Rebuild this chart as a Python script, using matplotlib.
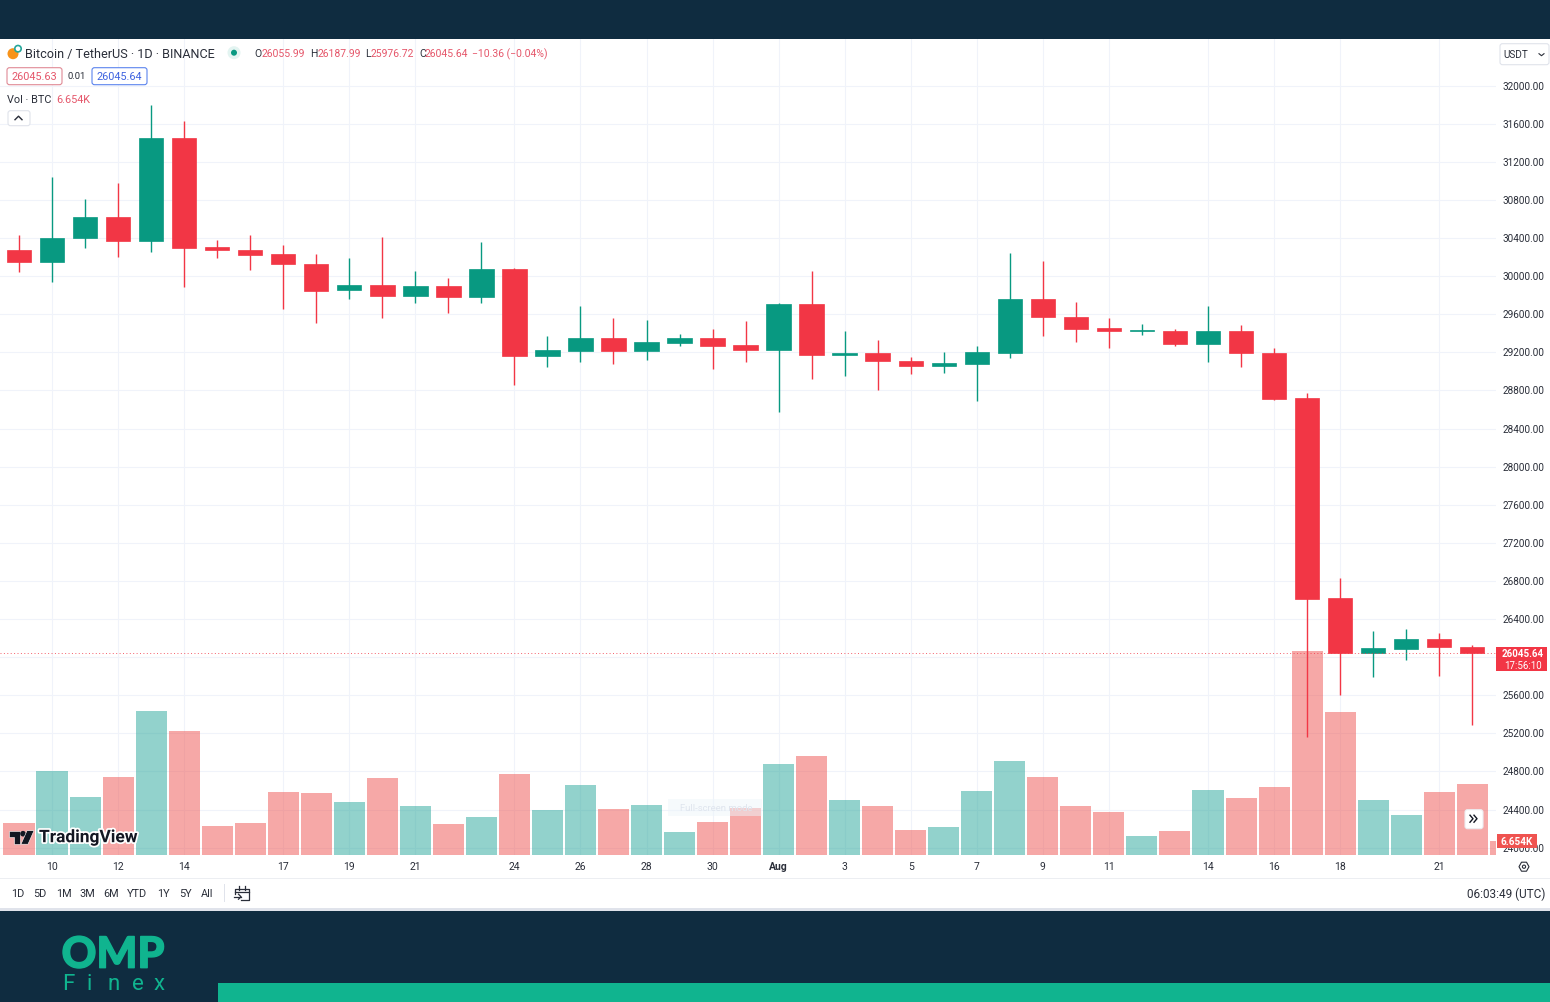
"""Bitcoin / TetherUS daily candles, TradingView screenshot look"""

import matplotlib
matplotlib.use("Agg")
import matplotlib.pyplot as plt
import matplotlib.patheffects as pe
from matplotlib.patches import Rectangle, FancyBboxPatch, Polygon, Circle
from matplotlib.transforms import ScaledTranslation

plt.rcParams['font.family'] = ['Roboto', 'DejaVu Sans']

# daily OHLC, 9 Jul to 22 Aug
opens = [30278, 30152, 30404, 30624, 30372, 31454, 30310, 30278, 30236, 30131,
         29858, 29910, 29795, 29900, 29785, 30078, 29165, 29218, 29354, 29218,
         29301, 29354, 29280, 29228, 29711, 29175, 29196, 29112, 29060, 29081,
         29197, 29763, 29575, 29459, 29428, 29428, 29291, 29428, 29196, 28724,
         26624, 26046, 26088, 26194, 26110]
closes = [30152, 30404, 30624, 30372, 31454, 30299, 30278, 30225, 30131, 29848,
          29910, 29795, 29900, 29785, 30078, 29165, 29228, 29354, 29218, 29312,
          29354, 29270, 29228, 29711, 29175, 29196, 29112, 29060, 29092, 29207,
          29763, 29575, 29448, 29428, 29438, 29291, 29428, 29196, 28713, 26613,
          26046, 26099, 26194, 26110, 26046]
highs = [30435, 31044, 30813, 30981, 31800, 31632, 30383, 30435, 30330, 30236,
         30194, 30414, 30058, 29984, 30362, 30090, 29375, 29690, 29564, 29543,
         29396, 29448, 29533, 29720, 30058, 29428, 29333, 29154, 29207, 29270,
         30246, 30163, 29732, 29564, 29501, 29448, 29690, 29490, 29249, 28777,
         26834, 26278, 26299, 26257, 26131]
lows = [30047, 29942, 30299, 30204, 30257, 29889, 30194, 30068, 29660, 29511,
        29763, 29564, 29721, 29616, 29721, 28860, 29049, 29102, 29081, 29123,
        29270, 29028, 29102, 28577, 28923, 28955, 28808, 28976, 28986, 28693,
        29144, 29375, 29312, 29249, 29385, 29270, 29102, 29049, 28705, 25164,
        25605, 25795, 25973, 25805, 25290]

# volume in thousand BTC, the last one is the bar still open
volumes = [15.2, 39.9, 27.6, 37.1, 68.4, 58.9, 13.8, 15.2, 29.9, 29.5,
           25.2, 36.6, 23.3, 14.7, 18.1, 38.5, 21.4, 33.3, 21.9, 23.8,
           10.9, 15.7, 22.3, 43.2, 47.0, 26.1, 23.3, 11.9, 13.3, 30.4,
           44.7, 37.1, 23.3, 20.4, 9.0, 11.4, 30.9, 27.1, 32.3, 96.9,
           67.9, 26.1, 19.0, 29.9, 33.7, 6.654]
volume_rising = [False, True, True, False, True, False, False, False, False, False,
                 True, False, True, False, True, False, True, True, False, True,
                 True, False, False, True, False, True, False, False, True, True,
                 True, False, False, False, True, False, True, False, False, False,
                 False, True, True, False, False, False]

date_positions = [1, 3, 5, 8, 10, 12, 15, 17, 19, 21, 23, 25, 27, 29, 31, 33, 36, 38, 40, 43]
date_labels = ['10', '12', '14', '17', '19', '21', '24', '26', '28', '30',
               'Aug', '3', '5', '7', '9', '11', '14', '16', '18', '21']
price_ticks = list(range(24000, 32400, 400))
hidden_price_label = 26000  # sits under the last price tag
last_price = 26045.64
range_buttons = ['1D', '5D', '1M', '3M', '6M', 'YTD', '1Y', '5Y', 'All']
range_button_x = [18, 40, 64, 87, 111, 137, 163, 185, 207]

UP = '#089981'
DOWN = '#f23645'
VOL_UP = '#26a69a'
VOL_DOWN = '#ef5350'
NAVY = '#0f2c40'
TEAL = '#10b48f'
TEXT = '#2a2e39'
RED_TEXT = '#e5566a'
GRID = '#f0f3fa'

W, H = 1550, 1003
fig = plt.figure(figsize=(W / 100, H / 100), dpi=100, facecolor='white')

# chart pane: pixels 0..1496 across, 40..856 down
# layers: grid and tick labels, then volume, then candles
ax = fig.add_axes([0, 1 - 855.7 / H, 1496 / W, 816 / H])
vol_ax = ax.twinx()
candle_ax = ax.twinx()
vol_ax.patch.set_visible(False)
candle_ax.patch.set_visible(False)

ax.set_xlim(-0.575, 44.72)
ax.set_ylim(23926, 32493)
candle_ax.set_ylim(23926, 32493)
vol_ax.set_ylim(0, 387.6)
vol_ax.yaxis.set_visible(False)
candle_ax.yaxis.set_visible(False)

# volume
days = list(range(len(volumes)))
vol_colors = [VOL_UP if r else VOL_DOWN for r in volume_rising]
vol_ax.bar(days, volumes, width=0.94, color=vol_colors, alpha=0.5, linewidth=0)

# candles
candle_days = list(range(len(opens)))
candle_colors = [UP if c >= o else DOWN for o, c in zip(opens, closes)]
candle_ax.vlines(candle_days, lows, highs, colors=candle_colors, linewidth=1, zorder=3)
candle_ax.bar(candle_days, [abs(c - o) for o, c in zip(opens, closes)],
              bottom=[min(o, c) for o, c in zip(opens, closes)], width=0.74,
              color=candle_colors, edgecolor=candle_colors, linewidth=0.5, zorder=4)
candle_ax.axhline(last_price, color=DOWN, linewidth=0.7, alpha=0.8,
                  linestyle=(0, (1, 2.5)), zorder=5)

ax.set_xticks(date_positions)
ax.set_xticklabels(date_labels)
for lbl in ax.get_xticklabels():
    if lbl.get_text() == 'Aug':
        lbl.set_fontweight('bold')
ax.yaxis.tick_right()
ax.set_yticks(price_ticks)
ax.set_yticklabels(['' if p == hidden_price_label else f'{p}.00' for p in price_ticks])
ax.tick_params(axis='x', length=0, pad=4.3, labelsize=7.5, labelcolor=TEXT)
ax.tick_params(axis='y', length=0, pad=5, labelsize=7.2, labelcolor=TEXT)
# price labels sit one pixel higher than the grid lines
up_1px = ScaledTranslation(0, 1 / 100, fig.dpi_scale_trans)
for lbl in ax.get_yticklabels():
    lbl.set_transform(lbl.get_transform() + up_1px)
ax.grid(True, color=GRID, linewidth=0.8)
ax.set_axisbelow(True)
for a in (ax, vol_ax, candle_ax):
    for spine in a.spines.values():
        spine.set_visible(False)

# everything around the chart is placed in screen pixels on this overlay
ui = fig.add_axes([0, 0, 1, 1], zorder=20)
ui.set_xlim(0, W)
ui.set_ylim(H - 0.7, -0.7)
ui.axis('off')


def box(x0, y0, x1, y1, color, **kw):
    ui.add_patch(Rectangle((x0, y0), x1 - x0, y1 - y0, facecolor=color, linewidth=0, **kw))


def rounded(x0, y0, x1, y1, face, edge, lw=0.8):
    ui.add_patch(FancyBboxPatch((x0, y0), x1 - x0, y1 - y0,
                                boxstyle='round,pad=0,rounding_size=2.5',
                                facecolor=face, edgecolor=edge, linewidth=lw))


def label(x, y, s, color=TEXT, size=8.5, ha='left', **kw):
    ui.text(x, y, s, color=color, fontsize=size, ha=ha, va='center', **kw)


# top and bottom bands
box(0, -2, W, 39, NAVY)
box(0, 878, W, 879.5, '#eceef2')
box(0, 908, W, 911.5, '#e0e3eb')
box(0, 911, W, H + 2, NAVY)
box(218, 983, W, H + 2, TEAL)

# legend row
ui.add_patch(Circle((13, 54), 5.5, facecolor='#f7931a', linewidth=0))
ui.add_patch(Circle((18, 49), 3.2, facecolor='white', edgecolor='#26a69a', linewidth=1.2))
label(25, 53.5, 'Bitcoin / TetherUS · 1D · BINANCE', size=9.05)
ui.add_patch(Circle((234, 53), 6.5, facecolor='#e3f4f1', linewidth=0))
ui.add_patch(Circle((234, 53), 3, facecolor=UP, linewidth=0))
for x, name, x2, val in [(254, 'O', 262, '26055.99'), (310, 'H', 318, '26187.99'),
                         (365, 'L', 371, '25976.72'), (419, 'C', 425, '26045.64')]:
    label(x, 53.5, name, size=7.5)
    label(x2, 53.5, val, color=RED_TEXT, size=7.5)
label(472, 53.5, '−10.36 (−0.04%)', color=RED_TEXT, size=7.5)

rounded(7, 68, 62, 85, 'white', '#e08a95')
label(34.5, 76.5, '26045.63', color=RED_TEXT, size=7.8, ha='center')
label(76.5, 76, '0.01', size=6.8, ha='center')
rounded(92, 68, 147, 85, 'white', '#5b84ee')
label(119.5, 76.5, '26045.64', color='#3d62e0', size=7.8, ha='center')
label(7, 99, 'Vol · BTC', size=7.8)
label(56, 99, '6.654K', color=RED_TEXT, size=7.8)
rounded(8, 111, 30, 126, 'white', '#e0e3eb')
ui.plot([15, 18.5, 22], [120, 116.5, 120], color=TEXT, linewidth=1)

# currency selector
rounded(1500, 44, 1549, 65, 'white', '#e0e3eb')
label(1503, 54, 'USDT', size=7.2)
ui.plot([1539, 1541.5, 1544], [54, 56, 54], color=TEXT, linewidth=0.8)

# price tags
box(1496, 647, 1547, 671, DOWN)
label(1523, 653.5, '26045.64', color='white', size=7, ha='center', fontweight='bold')
label(1523, 665, '17:56:10', color='white', size=7, ha='center')
box(1497, 834, 1537, 848, VOL_DOWN)
label(1517, 841, '6.654K', color='white', size=7.2, ha='center', fontweight='bold')

# faint leftover tooltip
label(716, 808, 'Full-screen mode', color='#dfe5ee', size=6.8, ha='center')
box(668, 799, 762, 816, '#eef6fb', alpha=0.5)

# scroll button
rounded(1465, 810, 1483, 829, 'white', '#eceef2')
ui.plot([1470, 1473, 1470], [815.5, 819, 822.5], color='#131722', linewidth=1)
ui.plot([1474, 1477, 1474], [815.5, 819, 822.5], color='#131722', linewidth=1)

# settings icon
ui.add_patch(Polygon([(1519, 867), (1521.5, 862.5), (1526.5, 862.5), (1529, 867),
                      (1526.5, 871.5), (1521.5, 871.5)], closed=True,
                     facecolor='white', edgecolor=TEXT, linewidth=0.8))
ui.add_patch(Circle((1524, 867), 1.6, facecolor='white', edgecolor=TEXT, linewidth=0.8))

# TradingView watermark
halo = [pe.withStroke(linewidth=2.5, foreground='white')]
ui.add_patch(Polygon([(8.5, 831), (20, 831), (20, 844.5), (14, 844.5), (14, 837), (8.5, 837)],
                     closed=True, facecolor='#131722', edgecolor='white', linewidth=0.4))
ui.add_patch(Circle((23, 834), 2.8, facecolor='#131722', linewidth=0))
ui.add_patch(Polygon([(27, 831), (34, 831), (28, 844.5), (21, 844.5)],
                     closed=True, facecolor='#131722', edgecolor='white', linewidth=0.4))
label(39, 838, 'TradingView', color='#131722', size=12.5, fontweight='bold', path_effects=halo)

# range buttons and clock
for x, name in zip(range_button_x, range_buttons):
    label(x, 893.5, name, size=7.8, ha='center')
box(224, 884, 225, 902, '#e0e3eb')
ui.plot([235, 235, 249, 249, 241], [894, 889, 889, 900, 900], color=TEXT, linewidth=0.9)
ui.plot([235, 249], [892, 892], color=TEXT, linewidth=0.9)
ui.plot([239, 239], [886, 890], color=TEXT, linewidth=0.9)
ui.plot([245, 245], [886, 890], color=TEXT, linewidth=0.9)
ui.plot([234, 241], [897, 897], color=TEXT, linewidth=0.9)
ui.plot([238.5, 241, 238.5], [894.5, 897, 899.5], color=TEXT, linewidth=0.9)
label(1545, 893.5, '06:03:49 (UTC)', size=8.5, ha='right')

# OMP Finex logo
ui.text(113, 968, 'OMP', color=TEAL, fontsize=31, family='Lato', fontweight='black',
        ha='center', va='baseline',
        path_effects=[pe.withStroke(linewidth=1, foreground=TEAL)])
for x, ch in zip([68, 89, 114, 138, 159], 'Finex'):
    ui.text(x, 989, ch, color=TEAL, fontsize=16, family='Roboto', ha='center', va='baseline')

fig.savefig('out.png', dpi=100)
plt.close(fig)
